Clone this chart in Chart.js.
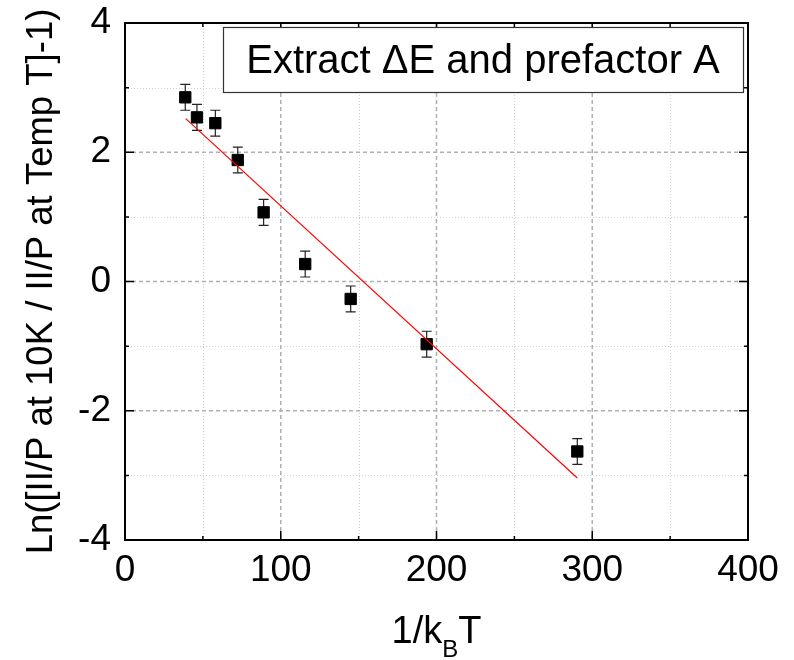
<!DOCTYPE html>
<html>
<head>
	<meta charset="utf-8">
	<title>Extract dE and prefactor A</title>
	<style>
		html, body {
			margin: 0px;
			padding: 0px;
			background: #fff;
		}
		.wrap {
			width: 794px;
			height: 660px;
		}
	</style>
</head>
<body>
	<div class="wrap">
		<canvas id="chart" width="794" height="660"></canvas>
	</div>
	<script src="https://cdn.jsdelivr.net/npm/chart.js@4"></script>
	<script>
		// measured points (1/kBT, ln ratio) with error bars
		const invKT = [38.7, 46.2, 58.0, 72.4, 89.0, 115.7, 144.9, 193.7, 290.4];
		const lnRatio = [2.85, 2.54, 2.45, 1.88, 1.07, 0.27, -0.27, -0.97, -2.63];
		const lnErr = [0.2, 0.2, 0.2, 0.2, 0.2, 0.2, 0.2, 0.2, 0.2];
		// linear fit
		const fitX = [39.0, 290.4];
		const fitY = [2.52, -3.04];
		const xTicks = [0, 100, 200, 300, 400];
		const yTicks = [-4, -2, 0, 2, 4];
		const boxText = "Extract \u0394E and prefactor A";
		const yTitle = "Ln([II/P at 10K / II/P at Temp T]-1)";

		const FONT = '"Liberation Sans", Arial, sans-serif';

		const frame = {
			id: 'frame',
			beforeDatasetsDraw(chart) {
				const { ctx, chartArea: a, scales: { x, y } } = chart;
				ctx.save();
				ctx.lineWidth = 1;
				// minor grid dotted
				ctx.strokeStyle = '#d2d2d2';
				ctx.setLineDash([1, 2]);
				x.ticks.forEach(t => {
					if (xTicks.includes(t.value)) return;
					const px = Math.round(x.getPixelForValue(t.value)) + 0.5;
					ctx.beginPath(); ctx.moveTo(px, a.top); ctx.lineTo(px, a.bottom); ctx.stroke();
				});
				y.ticks.forEach(t => {
					if (yTicks.includes(t.value)) return;
					const py = Math.round(y.getPixelForValue(t.value)) + 0.5;
					ctx.beginPath(); ctx.moveTo(a.left, py); ctx.lineTo(a.right, py); ctx.stroke();
				});
				// major grid dashed
				ctx.strokeStyle = '#b0b0b0';
				ctx.lineWidth = 1.5;
				ctx.setLineDash([4, 3]);
				xTicks.slice(1, -1).forEach(v => {
					const px = x.getPixelForValue(v);
					ctx.beginPath(); ctx.moveTo(px, a.top); ctx.lineTo(px, a.bottom); ctx.stroke();
				});
				yTicks.slice(1, -1).forEach(v => {
					const py = y.getPixelForValue(v);
					ctx.beginPath(); ctx.moveTo(a.left, py); ctx.lineTo(a.right, py); ctx.stroke();
				});
				ctx.setLineDash([]);
				// error bars
				ctx.strokeStyle = '#222';
				ctx.lineWidth = 1.2;
				invKT.forEach((v, i) => {
					const px = x.getPixelForValue(v);
					const top = y.getPixelForValue(lnRatio[i] + lnErr[i]);
					const bot = y.getPixelForValue(lnRatio[i] - lnErr[i]);
					ctx.beginPath();
					ctx.moveTo(px, top); ctx.lineTo(px, bot);
					ctx.moveTo(px - 5, top); ctx.lineTo(px + 5, top);
					ctx.moveTo(px - 5, bot); ctx.lineTo(px + 5, bot);
					ctx.stroke();
				});
				ctx.restore();
			},
			afterDraw(chart) {
				const { ctx, chartArea: a, scales: { x, y } } = chart;
				ctx.save();
				// inward ticks on all four sides
				ctx.strokeStyle = '#000';
				ctx.lineWidth = 1.5;
				x.ticks.forEach(t => {
					const px = x.getPixelForValue(t.value);
					const len = xTicks.includes(t.value) ? 9 : 4;
					ctx.beginPath();
					ctx.moveTo(px, a.bottom); ctx.lineTo(px, a.bottom - len);
					ctx.moveTo(px, a.top); ctx.lineTo(px, a.top + len);
					ctx.stroke();
				});
				y.ticks.forEach(t => {
					const py = y.getPixelForValue(t.value);
					const len = yTicks.includes(t.value) ? 9 : 4;
					ctx.beginPath();
					ctx.moveTo(a.left, py); ctx.lineTo(a.left + len, py);
					ctx.moveTo(a.right, py); ctx.lineTo(a.right - len, py);
					ctx.stroke();
				});
				ctx.lineWidth = 2;
				ctx.strokeRect(a.left, a.top, a.right - a.left, a.bottom - a.top);

				// text box
				ctx.fillStyle = '#fff';
				ctx.fillRect(223, 27, 520, 65);
				ctx.strokeStyle = '#333';
				ctx.lineWidth = 1.2;
				ctx.strokeRect(223.5, 27.5, 520, 65);
				ctx.fillStyle = '#000';
				ctx.font = '40px ' + FONT;
				ctx.textBaseline = 'alphabetic';
				ctx.textAlign = 'center';
				ctx.fillText(boxText, 483, 73);

				// x title with subscript B
				ctx.textAlign = 'left';
				const big = '38px ' + FONT, small = '24px ' + FONT;
				ctx.font = big;
				const w1 = ctx.measureText('1/k').width;
				const w3 = ctx.measureText('T').width;
				ctx.font = small;
				const w2 = ctx.measureText('B').width;
				let cx = (a.left + a.right) / 2 - (w1 + w2 + w3) / 2;
				ctx.font = big;
				ctx.fillText('1/k', cx, 643);
				cx += w1;
				ctx.font = small;
				ctx.fillText('B', cx, 657);
				cx += w2;
				ctx.font = big;
				ctx.fillText('T', cx, 643);
				ctx.restore();
			}
		};

		new Chart(document.getElementById('chart'), {
			type: 'scatter',
			data: {
				datasets: [{
					label: 'data',
					data: invKT.map((v, i) => ({ x: v, y: lnRatio[i] })),
					pointStyle: 'rect',
					pointRadius: 8,
					pointBackgroundColor: '#000',
					pointBorderColor: '#000',
					pointBorderWidth: 1,
					order: 2
				}, {
					label: 'fit',
					type: 'line',
					data: fitX.map((v, i) => ({ x: v, y: fitY[i] })),
					borderColor: '#ff0000',
					borderWidth: 1.2,
					pointRadius: 0,
					fill: false,
					order: 1
				}]
			},
			options: {
				responsive: false,
				animation: false,
				events: [],
				layout: { padding: { top: 23, right: 46, left: 0, bottom: 0 } },
				plugins: { legend: { display: false }, tooltip: { enabled: false } },
				scales: {
					x: {
						type: 'linear',
						min: 0, max: 400,
						grid: { display: false },
						border: { display: false },
						ticks: {
							stepSize: 50,
							autoSkip: false,
							maxRotation: 0,
							padding: 4,
							color: '#000',
							font: { family: FONT, size: 37, lineHeight: 1 },
							callback: v => xTicks.includes(v) ? String(v) : ''
						},
						afterFit: s => { s.height = 120; s.paddingLeft = 0; s.paddingRight = 0; }
					},
					y: {
						min: -4, max: 4,
						grid: { display: false },
						border: { display: false },
						ticks: {
							stepSize: 1,
							autoSkip: false,
							padding: 6,
							color: '#000',
							font: { family: FONT, size: 37, lineHeight: 1 },
							callback: v => yTicks.includes(v) ? String(v) : ''
						},
						title: {
							display: true,
							text: yTitle,
							color: '#000',
							font: { family: FONT, size: 36.5, lineHeight: 1 },
							padding: { top: 24, bottom: 0 }
						},
						afterFit: s => { s.width = 125; s.paddingTop = 0; s.paddingBottom = 0; }
					}
				}
			},
			plugins: [frame]
		});
	</script>
</body>
</html>
